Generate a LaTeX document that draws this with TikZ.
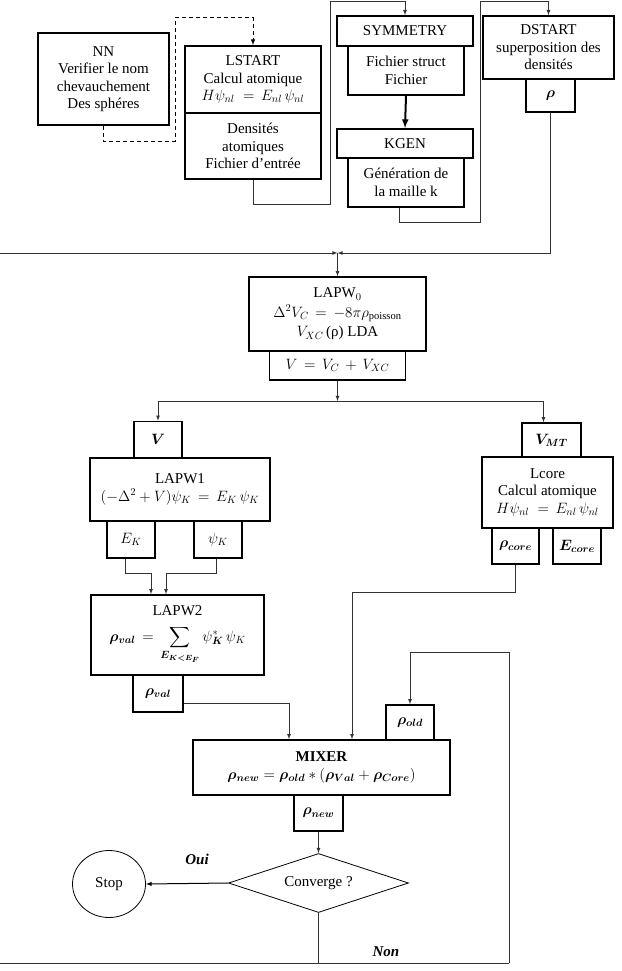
\RequirePackage{fix-cm}
\documentclass[tikz,border=0pt]{standalone}
\usepackage{amsmath}
\usepackage{fontspec}
\setmainfont{Liberation Serif}
\usepackage{bm}
\usetikzlibrary{shapes.geometric}

\begin{document}
\begin{tikzpicture}[x=1pt,y=-1pt,>=latex,font=\fontsize{15}{17.5}\selectfont]
\tikzstyle{box}=[draw,line width=1.6pt,align=center,inner sep=0pt]
\tikzstyle{wire}=[line width=0.8pt,black!80]
\useasboundingbox (0,0) rectangle (621,971);

% initialisation
\node[box,minimum width=131,minimum height=92] (NN) at (103.5,79) {NN\\Verifier le nom\\chevauchement\\Des sphéres};
\node[box,minimum width=136,minimum height=67] (LSTART) at (253,79.5) {LSTART\\Calcul atomique\\$H\psi_{nl} \;=\, E_{nl}\,\psi_{nl}$};
\node[box,minimum width=136,minimum height=66] (DENS) at (253,146) {Densités\\atomiques\\Fichier d’entrée};
\node[box,minimum width=136,minimum height=30] (SYM) at (405,31) {SYMMETRY};
\node[box,minimum width=116,minimum height=49] (FS) at (406,70.5) {Fichier struct\\Fichier};
\node[box,minimum width=136,minimum height=29] (KGEN) at (405,143.5) {KGEN};
\node[box,minimum width=116,minimum height=49] (GEN) at (406,182.5) {Génération de\\la maille k};
\node[box,minimum width=131,minimum height=63] (DSTART) at (548.5,47.5) {DSTART\\superposition des\\densités};
\node[box,minimum width=49,minimum height=33] (RHO) at (550.5,95.5) {$\bm{\rho}$};

\coordinate (d1) at (175,141);
\coordinate (d2) at (175,18);
\draw[line width=1pt,dash pattern=on 4pt off 3pt,->] (NN.south) |- (d1) -- (d2) -| (LSTART.north);
\coordinate (a1) at (330,204);
\coordinate (a2) at (330,1);
\draw[wire,->] (DENS.south) |- (a1) -- (a2) -| (SYM.north);
\draw[line width=2pt,->] (FS.south) -- (KGEN.north);
\coordinate (b1) at (480,222);
\coordinate (b2) at (480,1);
\draw[wire,->] ([xshift=-7pt]GEN.south) |- (b1) -- (b2) -| (DSTART.north);

% cycle SCF
\node[box,minimum width=177,minimum height=74] (LAPW0) at (337.5,314) {LAPW$_0$\\[2pt]$\Delta^2 V_C \,=\, -8\pi\rho_{\text{poisson}}$\\[2pt]$V_{XC}$\,(ρ) LDA};
\node[box,minimum width=136,minimum height=29] (VTOT) at (337.5,365.5) {$V \,=\, V_C \,+\, V_{XC}$};
\coordinate (m) at (337.5,253);
\coordinate (lft) at (0,253);
\draw[wire,->] (RHO.south) |- (m);
\draw[wire,->] (lft) -- (m);
\draw[wire,->] (m) -- (LAPW0.north);

\node[box,minimum width=48,minimum height=36] (V) at (158,439.5) {$\bm{V}$};
\node[box,minimum width=180,minimum height=63] (LAPW1) at (180,489.5) {LAPW1\\$(-\Delta^2 + V)\psi_K \,=\, E_K\,\psi_K$};
\node[box,minimum width=48,minimum height=37] (EK) at (131,539.5) {$E_K$};
\node[box,minimum width=48,minimum height=37] (PSI) at (218,539.5) {$\psi_K$};

\node[box,minimum width=59,minimum height=34] (VMT) at (551.5,440) {$\bm{V_{MT}}$};
\node[box,minimum width=131,minimum height=71] (LCORE) at (547.5,492.5) {Lcore\\Calcul atomique\\$H\psi_{nl} \;=\, E_{nl}\,\psi_{nl}$};
\node[box,minimum width=47,minimum height=36] (RCORE) at (515.5,546) {$\bm{\rho_{core}}$};
\node[box,minimum width=48,minimum height=36] (ECORE) at (577,546) {$\bm{E_{core}}$};

\coordinate (s) at (337.5,401);
\draw[wire,->] (VTOT.south) -- (s);
\draw[wire,->] (s) -| (V.north);
\draw[wire,->] (s) -| ([xshift=-8pt]VMT.north);

\node[box,minimum width=173,minimum height=80] (LAPW2) at (177.5,635) {LAPW2\\[8pt]$\bm{\rho_{val}} \,=\, \displaystyle\sum_{\bm{E_{K<E_F}}} \psi_{\bm{K}}^{*}\,\psi_K$};
\node[box,minimum width=50,minimum height=37] (RVAL) at (158,693.5) {$\bm{\rho_{val}}$};

\coordinate (e1) at (151,573);
\coordinate (p1) at (166,573);
\draw[wire,->] ([xshift=-6pt]EK.south) |- (e1) -- (e1 |- LAPW2.north);
\draw[wire,->] ([xshift=-2pt]PSI.south) |- (p1) -- (p1 |- LAPW2.north);

\node[box,minimum width=257,minimum height=55] (MIXER) at (321.5,767.5) {\textbf{MIXER}\\$\bm{\rho_{new}} = \bm{\rho_{old}} * (\bm{\rho_{Val}} + \bm{\rho_{Core}})$};
\node[box,minimum width=48,minimum height=35] (ROLD) at (410,722.5) {$\bm{\rho_{old}}$};
\node[box,minimum width=49,minimum height=36] (RNEW) at (318.5,813) {$\bm{\rho_{new}}$};

\coordinate (c1) at (352,592);
\draw[wire,->] (RCORE.south) |- (c1) -- (c1 |- MIXER.north);
\coordinate (v1) at (289,703);
\draw[wire,->] ([yshift=-9.5pt]RVAL.east) -- (v1) -- (v1 |- MIXER.north);

% test de convergence
\node[draw,diamond,aspect=3,inner sep=0pt,line width=0.8pt,minimum width=180,minimum height=59] (CONV) at (318.5,883) {Converge ?};
\node[draw,ellipse,line width=0.8pt,minimum width=73,minimum height=67] (STOP) at (109,884) {Stop};
\node (OUI) at (197,859) {\textbf{\textit{Oui}}};
\node (NON) at (386,952) {\textbf{\textit{Non}}};
\draw[line width=1pt,->] (CONV.west) -- (STOP.east);

\coordinate (n0) at (0,963);
\coordinate (n1) at (509,963);
\coordinate (n2) at (509,652);
\draw[wire] (CONV.south) -- (CONV.south |- n0);
\draw[wire] (n0) -- (n1);
\draw[wire,->] (n1) -- (n2) -| (ROLD.north);
\draw[wire,->] (RNEW.south) -- (CONV.north);
\end{tikzpicture}
\end{document}
